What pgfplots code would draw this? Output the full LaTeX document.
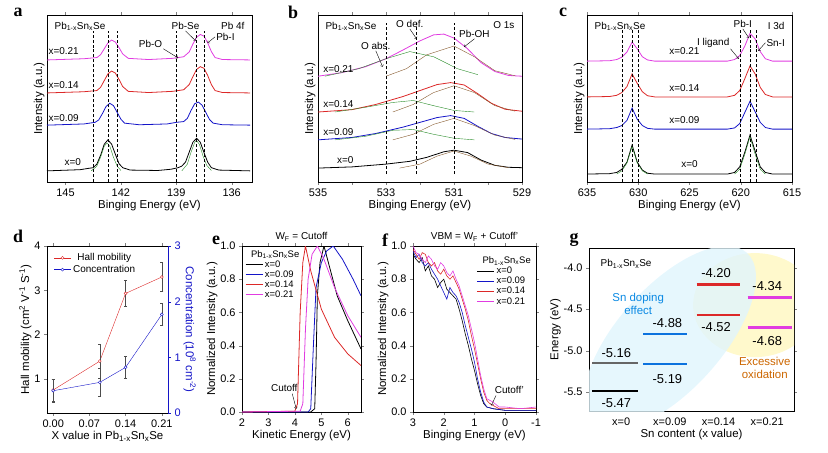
\documentclass[border=0pt]{standalone}
\usepackage{pgfplots}
\pgfplotsset{compat=1.18}
\usepackage{fontspec}
\setmainfont{Liberation Sans}
\newfontfamily\pl{Liberation Serif}
\definecolor{myblue}{RGB}{20,20,200}
\definecolor{myred}{RGB}{220,40,40}
\definecolor{mymag}{RGB}{225,60,225}
\definecolor{mygreen}{RGB}{40,140,40}
\newcommand{\PbSn}{Pb\textsubscript{1-x}Sn\textsubscript{x}Se}
\pgfplotsset{every axis/.append style={scale only axis, anchor=south west,
  tick label style={font=\fontsize{11}{13}\selectfont}, label style={font=\fontsize{11.5}{13}\selectfont},
  tick align=outside, major tick length=3pt, /pgf/number format/assume math mode=true,
  xlabel shift=-3pt, ylabel shift=-4pt},
  spec/.style={x dir=reverse, ymin=0, ymax=4.2, ytick=\empty, ylabel={Intensity (a.u.)}, xlabel={Binging Energy (eV)}},
  every node/.append style={font=\fontsize{9.5}{11}\selectfont}}
\begin{document}
\begin{tikzpicture}
\useasboundingbox (0bp,0bp) rectangle (828bp,-453bp);
% ---------- a
\node[font=\pl\bfseries\fontsize{18}{18}\selectfont] at (18bp,-12bp) {a};
\begin{axis}[spec, at={(47bp,-182bp)}, width=205bp, height=167bp, xmin=134.9, xmax=146, xtick={145,142,139,136}]
\addplot[black, thick] coordinates {(146,.28)(144.2,.31)(143.8,.34)(143.5,.36)(143.3,.45)(143.1,.67)(142.9,.95)(142.7,1.06)(142.5,.95)(142.3,.70)(142.1,.46)(141.9,.36)(141.5,.30)(140,.29)(139.3,.32)(138.9,.36)(138.7,.40)(138.5,.50)(138.3,.75)(138.1,1.0)(137.9,1.10)(137.7,1.0)(137.5,.74)(137.3,.50)(137.1,.36)(136.7,.30)(135,.28)};
\addplot[mygreen] coordinates {(143.6,.28)(143.3,.4)(143.1,.62)(142.9,.9)(142.75,.98)(142.6,.9)(142.4,.62)(142.2,.4)(142,.29)};
\addplot[mygreen] coordinates {(138.7,.28)(138.4,.45)(138.2,.75)(138,1.0)(137.9,1.04)(137.75,.95)(137.55,.65)(137.35,.42)(137.1,.29)};
\addplot[myblue, thick] coordinates {(146,1.43)(144,1.46)(143.4,1.5)(143.2,1.56)(143,1.72)(142.8,1.9)(142.6,1.98)(142.4,1.92)(142.2,1.75)(142,1.58)(141.8,1.48)(141,1.44)(139.5,1.46)(139,1.5)(138.6,1.52)(138.4,1.6)(138.2,1.8)(138,1.97)(137.8,2.01)(137.6,1.93)(137.4,1.75)(137.2,1.57)(137,1.48)(136.5,1.44)(135,1.43)};
\addplot[myred, thick] coordinates {(146,2.24)(144,2.27)(143.3,2.3)(143.1,2.38)(142.9,2.55)(142.7,2.72)(142.5,2.79)(142.3,2.74)(142.1,2.58)(141.9,2.4)(141.6,2.28)(140.5,2.25)(139.2,2.28)(138.6,2.32)(138.3,2.45)(138.1,2.65)(137.9,2.83)(137.7,2.9)(137.5,2.86)(137.3,2.68)(137.1,2.45)(136.9,2.3)(136.5,2.25)(135,2.24)};
\addplot[mymag, thick] coordinates {(146,3.07)(144,3.1)(143.3,3.13)(143.1,3.2)(142.9,3.35)(142.7,3.5)(142.5,3.57)(142.3,3.52)(142.1,3.38)(141.9,3.22)(141.6,3.11)(140.5,3.08)(139.2,3.11)(138.6,3.15)(138.3,3.27)(138.1,3.47)(137.9,3.64)(137.7,3.71)(137.5,3.67)(137.3,3.5)(137.1,3.28)(136.9,3.13)(136.5,3.08)(135,3.07)};
\foreach \v in {143.5,142.7,142.2,139,137.9,137.5}{\edef\t{\noexpand\draw[densely dashed] (axis cs:\v,0)--(axis cs:\v,3.8);}\t}
\node[anchor=north west] at (rel axis cs:0.02,0.98) {\PbSn};
\node[anchor=north east] at (rel axis cs:0.98,0.98) {Pb 4f};
\node at (axis cs:145.1,3.3) {x=0.21};
\node at (axis cs:145.1,2.45) {x=0.14};
\node at (axis cs:145.1,1.62) {x=0.09};
\node at (axis cs:144.6,0.5) {x=0};
\draw[<-] (axis cs:138.9,3.12)--(axis cs:139.7,3.35) node[anchor=south east,inner sep=1pt] {Pb-O};
\draw[<-] (axis cs:137.95,3.55)--(axis cs:138.5,3.8) node[anchor=south,inner sep=1pt] {Pb-Se};
\draw[<-] (axis cs:137.3,3.5)--(axis cs:136.9,3.65) node[anchor=west,inner sep=1pt] {Pb-I};
\end{axis}
% ---------- b
\node[font=\pl\bfseries\fontsize{18}{18}\selectfont] at (293bp,-12bp) {b};
\begin{axis}[spec, at={(318bp,-182bp)}, width=204bp, height=167bp, xmin=529, xmax=535, xtick={535,533,531,529}, minor xtick={534,532,530}]
\addplot[black, thick] coordinates {(535,.35)(534,.38)(533,.45)(532.3,.52)(531.8,.62)(531.3,.76)(531,.8)(530.6,.74)(530.2,.55)(529.8,.42)(529.4,.37)(529,.36)};
\addplot[brown!70!black] coordinates {(532.6,.35)(532,.45)(531.5,.65)(531,.78)(530.5,.65)(530,.45)(529.4,.36)};
\addplot[myblue, thick] coordinates {(535,1.06)(534,1.12)(533.3,1.22)(532.5,1.38)(532,1.5)(531.5,1.62)(531.1,1.67)(530.7,1.6)(530.3,1.4)(529.9,1.22)(529.5,1.12)(529,1.08)};
\addplot[brown!70!black] coordinates {(532.8,1.06)(532.2,1.2)(531.6,1.45)(531,1.6)(530.4,1.42)(529.8,1.18)(529.2,1.07)};
\addplot[mygreen] coordinates {(534.5,1.06)(533.6,1.15)(532.8,1.3)(532.2,1.32)(531.6,1.2)(531,1.1)(530.4,1.06)};
\addplot[myred, thick] coordinates {(535,1.76)(534,1.82)(533.3,1.95)(532.5,2.15)(532,2.3)(531.5,2.45)(531.1,2.5)(530.7,2.44)(530.3,2.22)(529.9,1.98)(529.5,1.83)(529,1.78)};
\addplot[brown!70!black] coordinates {(532.8,1.76)(532.2,1.95)(531.6,2.25)(531,2.42)(530.4,2.25)(529.8,1.92)(529.2,1.78)};
\addplot[mygreen] coordinates {(534.5,1.76)(533.6,1.88)(532.8,2.0)(532.2,2.05)(531.6,1.92)(531,1.8)(530.4,1.76)};
\addplot[mymag, thick] coordinates {(535,2.66)(534.3,2.75)(533.6,2.9)(533,3.1)(532.5,3.32)(532,3.55)(531.6,3.7)(531.3,3.72)(531,3.62)(530.6,3.35)(530.2,3.0)(529.8,2.78)(529.4,2.68)(529,2.66)};
\addplot[brown!70!black] coordinates {(533,2.66)(532.4,2.85)(531.8,3.2)(531,3.42)(530.4,3.15)(529.8,2.8)(529.2,2.67)};
\addplot[mygreen] coordinates {(534.8,2.66)(533.8,2.85)(533,3.1)(532.3,3.28)(531.6,3.15)(530.9,2.85)(530.3,2.7)};
\foreach \v in {533,532.1,531}{\edef\t{\noexpand\draw[densely dashed] (axis cs:\v,0.2)--(axis cs:\v,4);}\t}
\node[anchor=north west] at (rel axis cs:0.02,0.98) {\PbSn};
\node[anchor=north east] at (rel axis cs:0.98,0.98) {O 1s};
\node at (axis cs:534.4,2.85) {x=0.21};
\node at (axis cs:534.4,1.95) {x=0.14};
\node at (axis cs:534.4,1.25) {x=0.09};
\node at (axis cs:534.2,0.55) {x=0};
\draw[<-] (axis cs:533.1,2.9)--(axis cs:533.3,3.3) node[anchor=south,inner sep=1pt] {O abs.};
\draw[<-] (axis cs:532.1,3.6)--(axis cs:532.3,3.85) node[anchor=south,inner sep=1pt] {O def.};
\draw[<-] (axis cs:530.7,3.4)--(axis cs:530.4,3.6) node[anchor=south,inner sep=1pt] {Pb-OH};
\end{axis}
% ---------- c
\node[font=\pl\bfseries\fontsize{18}{18}\selectfont] at (563bp,-12bp) {c};
\begin{axis}[spec, at={(587bp,-182bp)}, width=205bp, height=167bp, xmin=615, xmax=635, xtick={635,630,625,620,615}]
\addplot[black, thick] coordinates {(635,.2)(632.8,.21)(632.1,.24)(631.6,.32)(631.1,.5)(630.6,.93)(630.1,.5)(629.6,.3)(629.1,.22)(628.4,.2)(621.3,.2)(620.6,.24)(620.1,.38)(619.6,.75)(619.1,1.18)(618.6,.78)(618.1,.38)(617.6,.24)(616.9,.2)(615,.2)};
\addplot[mygreen] coordinates {(632.1,.2)(631.6,.28)(631.1,.48)(630.6,.9)(630.1,.48)(629.6,.28)(629.1,.2)};
\addplot[mygreen] coordinates {(620.6,.2)(620.1,.32)(619.6,.7)(619.1,1.14)(618.6,.7)(618.1,.32)(617.6,.2)};
\addplot[myblue, thick] coordinates {(635,1.33)(632.8,1.34)(632.1,1.37)(631.6,1.42)(631.1,1.55)(630.6,1.86)(630.1,1.58)(629.6,1.42)(629.1,1.35)(628.4,1.33)(621.3,1.33)(620.6,1.36)(620.1,1.47)(619.6,1.75)(619.1,2.03)(618.6,1.77)(618.1,1.5)(617.6,1.37)(616.9,1.33)(615,1.33)};
\addplot[myred, thick] coordinates {(635,2.14)(632.8,2.15)(632.1,2.18)(631.6,2.25)(631.1,2.4)(630.6,2.72)(630.1,2.48)(629.6,2.27)(629.1,2.17)(628.4,2.14)(621.3,2.14)(620.6,2.18)(620.1,2.3)(619.6,2.6)(619.1,2.92)(618.6,2.72)(618.1,2.38)(617.6,2.2)(616.9,2.14)(615,2.14)};
\addplot[mymag, thick] coordinates {(635,3.04)(632.8,3.05)(632.1,3.08)(631.6,3.14)(631.1,3.27)(630.6,3.52)(630.1,3.35)(629.6,3.15)(629.1,3.07)(628.4,3.04)(621.3,3.04)(620.6,3.08)(620.1,3.18)(619.6,3.42)(619.1,3.74)(618.6,3.6)(618.1,3.28)(617.6,3.1)(616.9,3.04)(615,3.04)};
\foreach \v in {631.6,630.6,630,620.1,619.1,618.5}{\edef\t{\noexpand\draw[densely dashed] (axis cs:\v,0)--(axis cs:\v,3.85);}\t}
\node[anchor=north west] at (rel axis cs:0.02,0.98) {\PbSn};
\node[anchor=north east] at (rel axis cs:0.98,0.98) {I 3d};
\node at (axis cs:625.5,3.3) {x=0.21};
\node at (axis cs:625.5,2.37) {x=0.14};
\node at (axis cs:625.5,1.55) {x=0.09};
\node at (axis cs:625,0.45) {x=0};
\draw[<-] (axis cs:620.2,3.1)--(axis cs:621,3.35) node[anchor=south east,inner sep=1pt] {I ligand};
\draw[<-] (axis cs:619.2,3.62)--(axis cs:619.8,3.85) node[anchor=south,inner sep=1pt] {Pb-I};
\draw[<-] (axis cs:618.3,3.3)--(axis cs:617.6,3.5) node[anchor=west,inner sep=1pt] {Sn-I};
\end{axis}
% ---------- d
\node[font=\pl\bfseries\fontsize{18}{18}\selectfont] at (18bp,-236bp) {d};
\begin{axis}[at={(47bp,-413bp)}, width=121bp, height=167bp, xmin=-0.012, xmax=0.222, ymin=0.23, ymax=4,
  xtick={0,0.07,0.14,0.21}, xticklabels={0.00,0.07,0.14,0.21}, ytick={1,2,3,4}, axis y line*=left,
  xlabel={X value in \PbSn}, ylabel={Hall mobility (cm\textsuperscript{2} V\textsuperscript{-1} S\textsuperscript{-1})},
  legend style={draw=none, fill=none, at={(0.03,0.98)}, anchor=north west, font=\fontsize{10}{11}\selectfont, row sep=-1pt}]
\addplot[myred, mark=*, mark size=1.5pt, mark options={fill=white}, error bars/.cd, y dir=both, y explicit, error bar style={gray!60!black}] coordinates {(0,0.75) +- (0,0.25) (0.09,1.4) +- (0,0.38) (0.14,2.93) +- (0,0.3) (0.21,3.3) +- (0,0.33)};
\addlegendentry{Hall mobility}
\addlegendimage{myblue, mark=*, mark size=1.5pt, mark options={fill=white}}
\addlegendentry{Concentration}
\end{axis}
\begin{axis}[at={(47bp,-413bp)}, width=121bp, height=167bp, xmin=-0.012, xmax=0.222, ymin=0, ymax=3,
  axis x line=none, axis y line*=right, ytick={0,1,2,3}, y axis line style={myblue}, ytick style={myblue}, yticklabel style={myblue},
  ylabel={\color{myblue}Concentration (10\textsuperscript{8} cm\textsuperscript{-2})}, ylabel style={rotate=180}]
\addplot[myblue, mark=*, mark size=1.5pt, mark options={fill=white}, error bars/.cd, y dir=both, y explicit, error bar style={gray!60!black}] coordinates {(0,0.4) +- (0,0.2) (0.09,0.55) +- (0,0.25) (0.14,0.82) +- (0,0.2) (0.21,1.77) +- (0,0.2)};
\end{axis}
% ---------- e
\node[font=\pl\bfseries\fontsize{18}{18}\selectfont] at (216bp,-240bp) {e};
\begin{axis}[at={(242bp,-412bp)}, width=119bp, height=166bp, xmin=2, xmax=6.5, ymin=0, ymax=1,
  xtick={2,3,4,5,6}, ytick={0,0.2,0.4,0.6,0.8,1}, yticklabels={0.0,0.2,0.4,0.6,0.8,1.0},
  xlabel={Kinetic Energy (eV)}, ylabel={Normalized Intensity (a.u.)}, title={W\textsubscript{F} = Cutoff}, title style={font=\fontsize{10}{11}\selectfont, yshift=-5pt},
  legend style={draw=none, fill=none, at={(0.0,1.0)}, anchor=north west, font=\fontsize{9.5}{10}\selectfont, row sep=-2pt}, legend cell align=left]
\addlegendimage{empty legend}\addlegendentry{\hspace{-14pt}\PbSn}
\addplot[black, thick] coordinates {(2,0)(4.6,0)(4.75,0.02)(4.8,0.3)(4.85,0.7)(4.95,0.9)(5.1,1.0)(5.3,0.88)(5.6,0.7)(6,0.55)(6.5,0.38)};\addlegendentry{x=0}
\addplot[myblue, thick] coordinates {(2,0)(4.5,0)(4.6,0.02)(4.7,0.4)(4.8,0.75)(5,0.9)(5.2,0.97)(5.45,1.0)(5.8,0.92)(6.2,0.8)(6.5,0.7)};\addlegendentry{x=0.09}
\addplot[myred, thick] coordinates {(2,0)(4.0,0.005)(4.1,0.05)(4.2,0.6)(4.3,0.9)(4.4,1.0)(4.6,0.85)(5,0.62)(5.5,0.45)(6,0.35)(6.5,0.28)};\addlegendentry{x=0.14}
\addplot[mymag, thick] coordinates {(2,0)(4.2,0.005)(4.3,0.05)(4.4,0.5)(4.5,0.8)(4.65,0.95)(4.85,1.0)(5.1,0.92)(5.5,0.75)(6,0.58)(6.5,0.45)};\addlegendentry{x=0.21}
\draw[->] (axis cs:3.9,0.11)--(axis cs:4.05,0.02);
\node[anchor=south] at (axis cs:3.6,0.1) {Cutoff};
\end{axis}
% ---------- f
\node[font=\pl\bfseries\fontsize{18}{18}\selectfont] at (385bp,-240bp) {f};
\begin{axis}[at={(413bp,-412bp)}, width=123bp, height=166bp, xmin=-1, xmax=3, x dir=reverse, ymin=0, ymax=1,
  xtick={3,2,1,0,-1}, ytick={0,0.2,0.4,0.6,0.8,1}, yticklabels={0.0,0.2,0.4,0.6,0.8,1.0},
  xlabel={Binging Energy (eV)}, ylabel={Normalized Intensity (a.u.)}, title={VBM = W\textsubscript{F} + Cutoff'}, title style={font=\fontsize{10}{11}\selectfont, yshift=-5pt},
  legend style={draw=none, fill=none, at={(1.0,0.96)}, anchor=north east, font=\fontsize{9.5}{10}\selectfont, row sep=-2pt}, legend cell align=left]
\addlegendimage{empty legend}\addlegendentry{\hspace{-14pt}\PbSn}
\addplot[black, semithick] coordinates {(3,.95)(2.9,.92)(2.8,.9)(2.7,.93)(2.6,.85)(2.5,.88)(2.4,.82)(2.3,.8)(2.2,.75)(2.1,.78)(2.0,.8)(1.9,.74)(1.8,.72)(1.7,.7)(1.6,.68)(1.5,.62)(1.4,.55)(1.3,.47)(1.2,.4)(1.1,.32)(1.0,.25)(0.9,.17)(0.8,.1)(0.7,.05)(0.6,.03)(0.4,.02)(0,0.01)(-1,0.01)};\addlegendentry{x=0}
\addplot[myblue, semithick] coordinates {(3,.97)(2.9,.93)(2.8,.95)(2.7,.9)(2.6,.88)(2.5,.9)(2.4,.86)(2.3,.83)(2.2,.8)(2.1,.76)(2.0,.72)(1.9,.68)(1.8,.75)(1.7,.72)(1.6,.7)(1.5,.66)(1.4,.6)(1.3,.52)(1.2,.45)(1.1,.38)(1.0,.3)(0.9,.2)(0.8,.12)(0.7,.06)(0.6,.03)(0.4,.02)(0,.01)(-1,.01)};\addlegendentry{x=0.09}
\addplot[myred, semithick] coordinates {(3,.98)(2.9,.95)(2.8,.92)(2.7,.96)(2.6,.95)(2.5,.9)(2.4,.88)(2.3,.9)(2.2,.85)(2.1,.83)(2.0,.86)(1.9,.82)(1.8,.8)(1.7,.82)(1.6,.78)(1.5,.74)(1.4,.68)(1.3,.62)(1.2,.55)(1.1,.46)(1.0,.38)(0.9,.29)(0.8,.2)(0.7,.12)(0.6,.07)(0.5,.05)(0.4,.04)(0.2,.02)(0,.02)(-1,.02)};\addlegendentry{x=0.14}
\addplot[mymag, semithick] coordinates {(3,1.0)(2.9,.96)(2.8,.95)(2.7,.92)(2.6,.9)(2.5,.94)(2.4,.92)(2.3,.88)(2.2,.86)(2.1,.9)(2.0,.88)(1.9,.84)(1.8,.82)(1.7,.85)(1.6,.8)(1.5,.76)(1.4,.7)(1.3,.64)(1.2,.58)(1.1,.5)(1.0,.42)(0.9,.32)(0.8,.22)(0.7,.14)(0.6,.08)(0.5,.07)(0.4,.06)(0.2,.03)(0,.03)(-0.5,.02)(-1,.03)};\addlegendentry{x=0.21}
\draw[->] (axis cs:0.3,0.1)--(axis cs:0.45,0.04);
\node[anchor=south west] at (axis cs:0.45,0.09) {Cutoff'};
\end{axis}
% ---------- g
\node[font=\pl\bfseries\fontsize{18}{18}\selectfont] at (574bp,-240bp) {g};
\begin{axis}[at={(589bp,-411bp)}, width=205bp, height=163bp, xmin=-0.66, xmax=3.55, ymin=-5.73, ymax=-3.76,
  xtick={0,1,2,3}, xticklabels={x=0,x=0.09,x=0.14,x=0.21}, xtick style={draw=none},
  ytick={-4,-4.5,-5,-5.5}, yticklabels={-4.0,-4.5,-5.0,-5.5},
  xlabel={Sn content (x value)}, ylabel={Energy (eV)}]
\fill[orange!25!yellow!20] (axis cs:2.75,-4.45) ellipse [x radius=62bp, y radius=52bp];
\fill[cyan!12, opacity=0.8, rotate around={48:(axis cs:1.0,-4.85)}] (axis cs:1.0,-4.85) ellipse [x radius=115bp, y radius=52bp];
\addplot[black!60, line width=2.5pt] coordinates {(-0.6,-5.15)(0.35,-5.15)};
\addplot[black, line width=2.5pt] coordinates {(-0.6,-5.49)(0.35,-5.49)};
\addplot[myblue!60!cyan, line width=2.5pt] coordinates {(0.45,-4.8)(1.35,-4.8)};
\addplot[myblue!60!cyan, line width=2.5pt] coordinates {(0.45,-5.16)(1.35,-5.16)};
\addplot[myred, line width=2.5pt] coordinates {(1.55,-4.2)(2.45,-4.2)};
\addplot[myred, line width=2.5pt] coordinates {(1.55,-4.57)(2.45,-4.57)};
\addplot[mymag, line width=2.5pt] coordinates {(2.6,-4.36)(3.5,-4.36)};
\addplot[mymag, line width=2.5pt] coordinates {(2.6,-4.72)(3.5,-4.72)};
\begin{scope}[every node/.style={font=\fontsize{13}{15}\selectfont}]
\node at (axis cs:-0.1,-5.03) {-5.16};
\node at (axis cs:-0.1,-5.63) {-5.47};
\node at (axis cs:0.95,-4.67) {-4.88};
\node at (axis cs:0.95,-5.34) {-5.19};
\node at (axis cs:1.95,-4.06) {-4.20};
\node at (axis cs:1.95,-4.72) {-4.52};
\node at (axis cs:3.0,-4.22) {-4.34};
\node at (axis cs:3.0,-4.89) {-4.68};
\end{scope}
\node[anchor=north west] at (rel axis cs:0.04,0.95) {\PbSn};
\node[align=center, text=myblue!50!cyan, font=\fontsize{11.5}{13}\selectfont] at (axis cs:0.35,-4.43) {Sn doping\\effect};
\node[align=center, text=orange!80!black, font=\fontsize{11.5}{13}\selectfont] at (axis cs:2.95,-5.21) {Excessive\\oxidation};
\end{axis}
\end{tikzpicture}
\end{document}
